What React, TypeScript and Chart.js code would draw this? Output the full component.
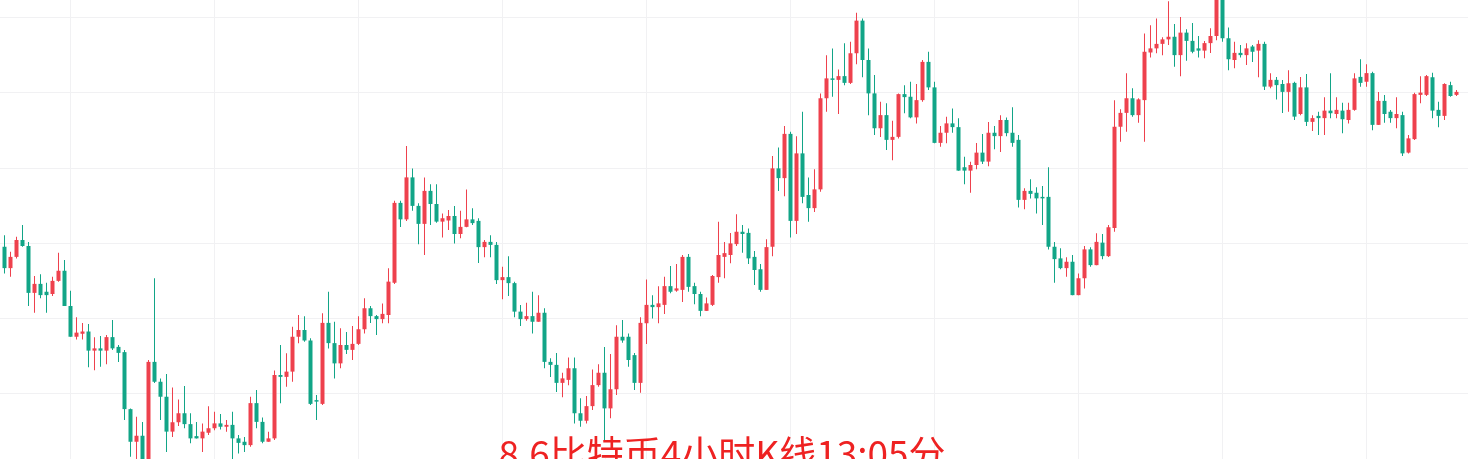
import React, { useEffect, useRef } from 'react';
import { Chart, registerables } from 'chart.js';

Chart.register(...registerables);

// 4-hour candles, oldest first (index = candle number)
const openPrices = [
  20950, 20665, 20815, 21040, 20960, 20335, 20455, 20350, 20320, 20495,
  20630, 20160, 19750, 19790, 19820, 19565, 19595, 19565, 19745, 19615,
  19545, 18785, 18350, 18430, 18080, 19415, 19150, 18950, 18485, 18610,
  18730, 18585, 18425, 18395, 18470, 18530, 18595, 18550, 18575, 18395,
  18350, 18305, 18865, 18615, 18350, 18395, 19240, 19215, 19285, 19750,
  19840, 19700, 18905, 18855, 19935, 19665, 19395, 19640, 19575, 19655,
  19850, 20130, 20025, 19985, 20040, 20470, 21535, 21315, 21875, 21495,
  21255, 21695, 21520, 21285, 21300, 21360, 21120, 21215, 21315, 21295,
  20945, 21015, 20975, 20505, 20545, 20465, 20085, 19985, 20025, 19950,
  20070, 19415, 19375, 19135, 19175, 19330, 18730, 18630, 18825, 19105,
  19270, 18795, 19050, 19750, 19750, 19505, 19135, 19930, 20175, 20145,
  20175, 20425, 20365, 20375, 20815, 20425, 20320, 20095, 20175, 20545,
  20815, 20840, 20985, 21150, 21135, 20815, 20650, 20375, 20950, 21995,
  21865, 22455, 21295, 22195, 21640, 21465, 21715, 22930, 23195, 23175,
  23225, 23135, 23530, 23965, 23440, 22995, 22530, 22705, 22375, 22415,
  22985, 22950, 22675, 22905, 23415, 23075, 22335, 22470, 22595, 22545,
  22010, 21965, 22040, 22205, 22085, 22470, 22425, 22640, 22470, 22375,
  21575, 21695, 21670, 21615, 21615, 20950, 20795, 20665, 20750, 20305,
  20530, 20915, 20705, 21005, 20825, 21200, 22550, 22735, 22930, 22705,
  22905, 23540, 23595, 23655, 23715, 23750, 23505, 23805, 23695, 23595,
  23565, 23665, 23760, 24345, 23730, 23440, 23535, 23505, 23620, 23565,
  23655, 23085, 23175, 23120, 23015, 23135, 22720, 23075, 22615, 22695,
  22665, 22765, 22720, 22765, 22640, 22775, 23215, 23150, 23265, 22575,
  22895, 22750, 22665, 22705, 22205, 22385, 22975, 22975, 23210, 22775,
  22695, 23105, 22975,
];
const highPrices = [
  21105, 20885, 21085, 21240, 21015, 20560, 20585, 20470, 20550, 20870,
  20775, 20365, 20010, 19935, 19920, 19745, 19760, 19775, 19975, 19640,
  19575, 18795, 18685, 18615, 19440, 20530, 19195, 19255, 19075, 18915,
  19095, 18730, 18615, 18595, 18825, 18750, 18720, 18640, 18750, 18440,
  18415, 18950, 19040, 18675, 18485, 19300, 19640, 19530, 19885, 20040,
  20025, 19730, 18975, 20065, 20350, 19950, 19865, 19815, 19895, 20025,
  20265, 20160, 20040, 20195, 20665, 21565, 21565, 22295, 21995, 21530,
  21875, 21785, 21785, 21395, 21440, 21495, 21430, 21715, 21465, 21330,
  21040, 21105, 21015, 20685, 20825, 20485, 20175, 20205, 20350, 20305,
  20130, 19465, 19535, 19270, 19475, 19475, 18930, 18960, 19315, 19385,
  19615, 19520, 19905, 19975, 19795, 19535, 20010, 20515, 20305, 20425,
  20550, 20695, 20720, 20840, 20855, 20470, 20350, 20275, 20575, 21285,
  21015, 21135, 21385, 21240, 21195, 20895, 20720, 21050, 22160, 22275,
  22560, 22485, 22425, 22750, 21875, 21985, 22995, 23505, 23595, 23315,
  23665, 23685, 24070, 23995, 23595, 23240, 22885, 22865, 22630, 22995,
  23105, 23150, 23120, 23440, 23550, 23150, 22560, 22685, 22795, 22665,
  22150, 22085, 22335, 22455, 22615, 22560, 22705, 22675, 22810, 22440,
  21730, 21850, 21745, 21760, 22010, 21015, 20930, 20810, 20840, 20595,
  20960, 20945, 21130, 21120, 21240, 22905, 22785, 23265, 23065, 22930,
  23795, 23905, 23995, 23745, 24225, 23920, 24015, 23850, 23935, 23760,
  23695, 23865, 24440, 24400, 23875, 23685, 23640, 23665, 23640, 23705,
  23685, 23265, 23215, 23175, 23305, 23150, 23215, 23255, 22705, 22750,
  22945, 23265, 22945, 22870, 22870, 23265, 23450, 23385, 23285, 23015,
  22975, 22775, 22945, 22750, 22440, 23005, 23225, 23240, 23270, 22885,
  23130, 23150, 23040,
];
const lowPrices = [
  20595, 20550, 20795, 20950, 20160, 20070, 20265, 20070, 20295, 20485,
  20160, 19750, 19715, 19715, 19345, 19305, 19350, 19385, 19575, 19415,
  18640, 18150, 18120, 17975, 17975, 19135, 18640, 18215, 18415, 18560,
  18530, 18330, 18395, 18215, 18440, 18505, 18515, 18485, 18120, 18195,
  18215, 18285, 18530, 18330, 18350, 18375, 18865, 19085, 19150, 19665,
  19685, 18840, 18640, 18840, 19595, 19195, 19330, 19520, 19440, 19640,
  19795, 19935, 19775, 19930, 19930, 20455, 21215, 21295, 21430, 20985,
  20840, 21240, 21270, 21075, 21175, 20995, 21065, 21210, 21240, 20735,
  20810, 20810, 20455, 20250, 20295, 20010, 19895, 19965, 19795, 19950,
  19330, 19215, 19015, 18945, 19105, 18595, 18550, 18595, 18775, 19085,
  18375, 18665, 18975, 19670, 19350, 19040, 19005, 19655, 19995, 19930,
  20055, 20330, 20350, 20215, 20350, 20185, 20025, 20095, 20160, 20470,
  20530, 20730, 20960, 20870, 20720, 20440, 20350, 20375, 20825, 21695,
  21625, 21075, 21120, 21530, 21285, 21415, 21685, 22750, 22950, 22720,
  23105, 23120, 23385, 23210, 22705, 22440, 22415, 22240, 22105, 22395,
  22730, 22665, 22595, 22885, 23040, 22330, 22285, 22330, 22470, 21965,
  21785, 21670, 21985, 22055, 22025, 22250, 22215, 22425, 22285, 21475,
  21450, 21595, 21395, 21240, 20915, 20470, 20650, 20550, 20305, 20305,
  20395, 20685, 20705, 20785, 20815, 21150, 22350, 22485, 22685, 22605,
  22350, 23475, 23530, 23505, 23640, 23350, 23225, 23430, 23530, 23475,
  23465, 23535, 23705, 23685, 23305, 23330, 23475, 23375, 23415, 23210,
  23040, 23065, 22915, 22735, 22750, 22640, 22705, 22560, 22495, 22440,
  22440, 22665, 22665, 22465, 22595, 22765, 23085, 23085, 22505, 22575,
  22605, 22605, 22530, 22160, 22195, 22375, 22865, 22960, 22665, 22545,
  22640, 22950, 22960,
];
const closePrices = [
  20665, 20815, 21040, 20960, 20335, 20455, 20305, 20305, 20495, 20630,
  20160, 19750, 19805, 19820, 19565, 19595, 19565, 19745, 19595, 19535,
  18785, 18350, 18430, 18080, 19415, 19150, 18950, 18485, 18610, 18730,
  18585, 18395, 18395, 18485, 18530, 18595, 18550, 18575, 18395, 18335,
  18305, 18865, 18615, 18350, 18395, 19240, 19215, 19285, 19750, 19840,
  19700, 18855, 18885, 19935, 19665, 19395, 19640, 19575, 19655, 19850,
  20130, 20025, 19985, 20055, 20485, 21535, 21315, 21875, 21495, 21255,
  21695, 21520, 21285, 21330, 21360, 21120, 21215, 21315, 21265, 20945,
  21015, 20975, 20505, 20545, 20465, 20085, 19985, 20025, 19950, 20070,
  19415, 19375, 19135, 19195, 19330, 18730, 18630, 18825, 19105, 19270,
  18795, 19050, 19750, 19700, 19440, 19135, 19935, 20175, 20145, 20195,
  20425, 20350, 20395, 20815, 20415, 20320, 20095, 20195, 20560, 20840,
  20865, 20995, 21150, 21120, 20795, 20640, 20375, 20945, 21995, 21865,
  22455, 21295, 22195, 21615, 21465, 21715, 22930, 23195, 23175, 23225,
  23135, 23530, 23965, 23440, 22995, 22530, 22705, 22375, 22415, 22985,
  22945, 22675, 22905, 23415, 23075, 22335, 22470, 22595, 22545, 21965,
  21965, 22040, 22205, 22085, 22470, 22425, 22640, 22465, 22335, 21575,
  21695, 21655, 21595, 21595, 20950, 20785, 20665, 20750, 20305, 20530,
  20915, 20705, 21015, 20825, 21210, 22550, 22735, 22930, 22705, 22915,
  23550, 23595, 23655, 23715, 23750, 23505, 23805, 23695, 23550, 23565,
  23665, 23760, 24345, 23730, 23450, 23535, 23505, 23595, 23550, 23655,
  23085, 23175, 23105, 23015, 23130, 22685, 23075, 22615, 22665, 22665,
  22765, 22730, 22775, 22650, 22775, 23195, 23135, 23265, 22575, 22895,
  22720, 22665, 22720, 22195, 22395, 22985, 23005, 23225, 22765, 22695,
  23120, 22960, 23015,
];

// horizontal grid prices and the candles that carry a vertical grid line
const gridPrices = [19000, 20000, 21000, 22000, 23000, 24000];
const gridCandles = [11, 35, 59, 83, 107, 131, 155, 179, 203, 227];
const captionText = '8.6比特币4小时K线13:05分';

const UP_COLOR = '#ee414d';
const DOWN_COLOR = '#12a587';
const GRID_COLOR = '#f1f1f3';

export default function App() {
  const canvasRef = useRef<HTMLCanvasElement>(null);

  useEffect(() => {
    const idx = openPrices.map((_, i) => i);
    const colors = idx.map((i) => (closePrices[i] >= openPrices[i] ? UP_COLOR : DOWN_COLOR));
    const chart = new Chart(canvasRef.current as HTMLCanvasElement, {
      type: 'bar',
      data: {
        datasets: [
          {
            label: 'body',
            data: idx.map((i) => ({ x: i, y: [openPrices[i], closePrices[i]] })) as any,
            backgroundColor: colors,
            barThickness: 4,
            minBarLength: 1,
            grouped: false,
            inflateAmount: 0,
            order: 1,
          } as any,
          {
            label: 'wick',
            data: idx.map((i) => ({ x: i, y: [lowPrices[i], highPrices[i]] })) as any,
            backgroundColor: colors,
            barThickness: 1,
            grouped: false,
            inflateAmount: 0,
            order: 2,
          } as any,
        ],
      },
      options: {
        responsive: false,
        maintainAspectRatio: false,
        animation: false,
        devicePixelRatio: 1,
        layout: { padding: 0 },
        plugins: { legend: { display: false }, tooltip: { enabled: false } },
        scales: {
          x: {
            type: 'linear',
            offset: false,
            min: -0.75,
            max: 243.9167,
            grid: { color: GRID_COLOR, drawTicks: false, offset: false },
            border: { display: false },
            ticks: { display: false },
            afterBuildTicks: (scale: any) => {
              scale.ticks = gridCandles.map((v) => ({ value: v }));
            },
          },
          y: {
            type: 'linear',
            min: 18120,
            max: 24240,
            grid: { color: GRID_COLOR, drawTicks: false },
            border: { display: false },
            ticks: { display: false },
            afterBuildTicks: (scale: any) => {
              scale.ticks = gridPrices.map((v) => ({ value: v }));
            },
          },
        },
      } as any,
    });
    return () => chart.destroy();
  }, []);

  return (
    <div
      style={{
        position: 'absolute',
        left: 0,
        top: 0,
        width: 1468,
        height: 459,
        overflow: 'hidden',
        background: '#ffffff',
      }}
    >
      <canvas ref={canvasRef} width={1468} height={459} style={{ display: 'block' }} />
      <div
        style={{
          position: 'absolute',
          left: 722,
          top: 434,
          transform: 'translateX(-50%)',
          whiteSpace: 'nowrap',
          fontFamily: '"Noto Sans CJK SC", "Noto Sans", sans-serif',
          fontSize: 37,
          lineHeight: 1,
          color: '#ee2222',
        }}
      >
        {captionText}
      </div>
    </div>
  );
}
